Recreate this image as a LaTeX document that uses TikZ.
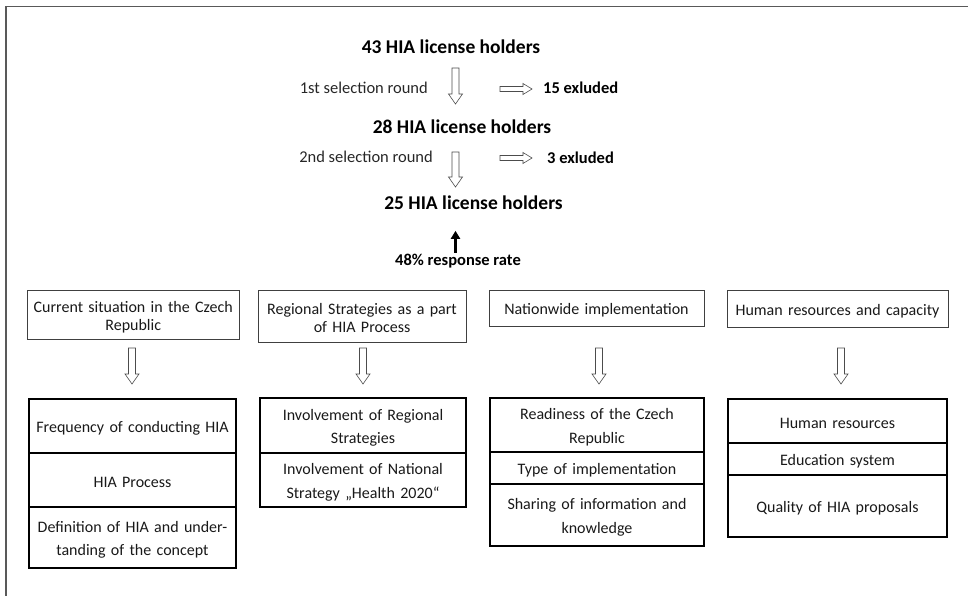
\documentclass[tikz,border=0pt]{standalone}
\usepackage{fontspec}
\setmainfont{Carlito}
\usetikzlibrary{arrows.meta,calc}
\newcommand\hdownarrow[4]{% name x ytop ybot
  \draw[hollowarrow] ({#2-3.5},#3) coordinate (#1) -- ({#2+3.5},#3) -- ({#2+3.5},{#4-10}) -- ({#2+7},{#4-10}) -- (#2,#4) -- ({#2-7},{#4-10}) -- ({#2-3.5},{#4-10}) -- cycle;}
\newcommand\hrightarrow[4]{% name xleft xright y
  \draw[hollowarrow] (#2,{#4-2.5}) coordinate (#1) -- ({#3-9},{#4-2.5}) -- ({#3-9},{#4-5.5}) -- (#3,#4) -- ({#3-9},{#4+5.5}) -- ({#3-9},{#4+2.5}) -- (#2,{#4+2.5}) -- cycle;}
\tikzset{
  hollowarrow/.style={draw=black!70, line width=0.6pt, fill=white},
  headline/.style={font=\fontsize{19.5}{22}\selectfont\bfseries, inner sep=0pt},
  roundlabel/.style={font=\fontsize{16.5}{18}\selectfont, text=black!85, inner sep=0pt, anchor=east},
  exlabel/.style={font=\fontsize{16.5}{18}\selectfont\bfseries, inner sep=0pt, anchor=west},
  topbox/.style={draw=black!75, line width=0.8pt, inner sep=2pt, align=center, text height=16pt,
    font=\fontsize{16}{18}\selectfont, text=black!90},
  cell/.style={draw=black, line width=1.3pt, inner sep=2pt, align=center, text height=16pt,
    font=\fontsize{16}{23.5}\selectfont, text=black!90},
}
\begin{document}
\begin{tikzpicture}[x=1pt,y=-1pt]
\useasboundingbox (0,0) rectangle (968,596);
\draw[black!65, line width=1.6pt] (6,596) -- (6,6.5) -- (968,6.5);

% top flow
\node[headline] (h43) at (451,47) {43 HIA license holders};
\node[roundlabel] (r1) at (428,88) {1st selection round};
\hdownarrow{a1}{455.5}{68}{104}
\hrightarrow{e1}{500}{532}{89}
\node[exlabel] (x1) at (543,88) {15 exluded};

\node[headline] (h28) at (462,127) {28 HIA license holders};
\node[roundlabel] (r2) at (433,157) {2nd selection round};
\hdownarrow{a2}{455.5}{152}{187}
\hrightarrow{e2}{500}{532}{158}
\node[exlabel] (x2) at (547,158) {3 exluded};

\node[headline] (h25) at (473.5,203) {25 HIA license holders};
\node[font=\fontsize{16.5}{18}\selectfont\bfseries, inner sep=0pt] (rr) at (458,261) {48\% response rate};
\draw[line width=2.4pt, -{Triangle[length=8pt,width=9pt]}] ($(rr.north)+(-2.5,-1)$) -- ++(0,-22);

% top boxes
\node[topbox, minimum width=211.5pt, minimum height=49pt, text width=207pt] (b1) at (133.25,314.5) {Current situation in the Czech\\Republic};
\node[topbox, minimum width=208pt, minimum height=52pt, text width=204pt] (b2) at (362,316) {Regional Strategies as a part\\of HIA Process};
\node[topbox, minimum width=215pt, minimum height=36pt, text width=211pt] (b3) at (596.5,308) {Nationwide implementation};
\node[topbox, minimum width=221pt, minimum height=37pt, text width=217pt] (b4) at (837.5,308.5) {Human resources and capacity};

% hollow arrows
\hdownarrow{d1}{132}{348}{384}
\hdownarrow{d2}{363}{348}{384}
\hdownarrow{d3}{599}{348}{384}
\hdownarrow{d4}{841}{348}{384}

% column 1
\node[cell, minimum width=207pt, minimum height=54pt, text width=203pt] (c11) at (132.5,426) {Frequency of conducting HIA};
\node[cell, minimum width=207pt, minimum height=54pt, text width=203pt] (c12) at (132.5,480) {HIA Process};
\node[cell, minimum width=207pt, minimum height=61pt, text width=203pt] (c13) at (132.5,537.5) {Definition of HIA and under-\\tanding of the concept};
% column 2
\node[cell, minimum width=206pt, minimum height=55pt, text width=202pt] (c21) at (363,425.5) {Involvement of Regional\\Strategies};
\node[cell, minimum width=206pt, minimum height=54pt, text width=202pt] (c22) at (363,480) {Involvement of National\\Strategy „Health 2020“};
% column 3
\node[cell, minimum width=214pt, minimum height=54pt, text width=210pt] (c31) at (597,425) {Readiness of the Czech\\Republic};
\node[cell, minimum width=214pt, minimum height=32pt, text width=210pt] (c32) at (597,468) {Type of implementation};
\node[cell, minimum width=214pt, minimum height=62pt, text width=210pt] (c33) at (597,515) {Sharing of information and\\knowledge};
% column 4
\node[cell, minimum width=219pt, minimum height=44pt, text width=215pt] (c41) at (837.5,421) {Human resources};
\node[cell, minimum width=219pt, minimum height=32pt, text width=215pt] (c42) at (837.5,459) {Education system};
\node[cell, minimum width=219pt, minimum height=62pt, text width=215pt] (c43) at (837.5,506) {Quality of HIA proposals};
\end{tikzpicture}
\end{document}
